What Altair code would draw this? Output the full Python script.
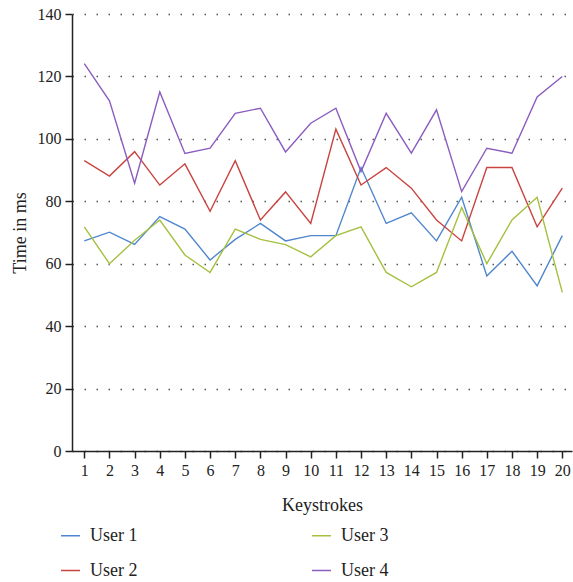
import altair as alt
import pandas as pd

keystrokes = list(range(1, 21))
user1 = [67.3, 70.1, 66.2, 75.1, 71.1, 61.2, 67.8, 72.9, 67.3, 69.0,
         69.0, 90.8, 72.9, 76.3, 67.3, 81.3, 56.1, 64.0, 52.9, 69.0]
user2 = [93.0, 88.1, 95.9, 85.2, 92.0, 76.8, 93.0, 74.0, 83.0, 72.9,
         103.1, 85.2, 90.8, 84.2, 74.0, 67.3, 90.8, 90.8, 71.8, 84.2]
user3 = [71.8, 60.0, 67.5, 74.0, 62.8, 57.2, 71.1, 67.8, 66.1, 62.2,
         69.0, 71.8, 57.2, 52.6, 57.2, 78.0, 60.0, 74.0, 81.3, 50.8]
user4 = [124.1, 112.2, 85.8, 115.0, 95.3, 97.0, 108.2, 109.8, 95.8, 105.0,
         109.8, 89.5, 108.2, 95.4, 109.3, 83.1, 97.0, 95.4, 113.4, 120.0]

series_names = ["User 1", "User 2", "User 3", "User 4"]
series_values = [user1, user2, user3, user4]
series_colors = ["#4F86CE", "#C9433F", "#A4C03F", "#8B5DBF"]

rows = []
for name, vals in zip(series_names, series_values):
    for k, v in zip(keystrokes, vals):
        rows.append({"Keystroke": k, "Time": v, "User": name})
df = pd.DataFrame(rows)

FONT = "Liberation Serif"

chart = alt.Chart(df).mark_line(strokeWidth=1.4).encode(
    x=alt.X("Keystroke:Q",
            scale=alt.Scale(domain=[0.511, 20.386], nice=False, zero=False),
            axis=alt.Axis(values=keystrokes, title="Keystrokes", grid=False,
                          format="d", labelFlush=False)),
    y=alt.Y("Time:Q",
            scale=alt.Scale(domain=[0, 140], nice=False),
            axis=alt.Axis(values=list(range(0, 141, 20)), title="Time in ms",
                          grid=True)),
    color=alt.Color("User:N",
                    scale=alt.Scale(domain=series_names, range=series_colors),
                    legend=alt.Legend(title=None, orient="none", legendX=-12,
                                      legendY=511, columns=2, columnPadding=171,
                                      rowPadding=15, symbolType="stroke",
                                      symbolSize=361, symbolStrokeWidth=1.5,
                                      labelOffset=9, labelFontSize=18,
                                      labelFont=FONT, labelColor="#222")),
    detail="User:N",
).properties(
    width=500, height=437,
    autosize=alt.AutoSizeParams(type="none"),
    padding={"left": 72, "top": 14, "right": 1, "bottom": 131},
).configure_view(
    stroke=None
).configure_axis(
    labelFont=FONT, titleFont=FONT, labelFontSize=16, titleFontSize=18,
    titleFontWeight="normal", labelColor="#222", titleColor="#222",
    domainColor="#222", domainWidth=1.5, tickColor="#222", tickWidth=1.5,
    tickSize=7, gridColor="#555", gridDash=[1.5, 10.5], gridWidth=1.5,
).configure_axisX(
    labelPadding=4, titlePadding=18,
).configure_axisY(
    labelPadding=4, titlePadding=8,
)

chart.save("out.html", embed_options={"renderer": "svg", "actions": False})
